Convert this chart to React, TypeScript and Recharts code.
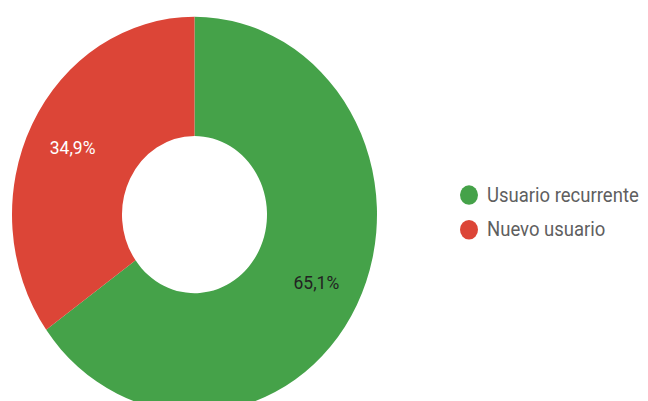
import { PieChart, Pie, Cell, Legend } from "recharts"

const categories = ["Usuario recurrente", "Nuevo usuario"]
const shares = [65.1, 34.9]
const COLORS = ["#45a249", "#dc4537"]
const LABEL_COLORS = ["#222222", "#ffffff"]

const data = categories.map((name, i) => ({ name, value: shares[i] }))

const RADIAN = Math.PI / 180

// the reference image is stretched vertically, so the whole chart gets a scaleY
const W = 648
const H = 370
const STRETCH = 401 / 370

function renderLabel(props: any) {
  const { cx, cy, midAngle, index, value } = props
  const r = 137
  const x = cx + r * Math.cos(-midAngle * RADIAN)
  const y = cy + r * Math.sin(-midAngle * RADIAN)
  return (
    <text
      x={x}
      y={y}
      fill={LABEL_COLORS[index]}
      textAnchor="middle"
      dominantBaseline="central"
      fontSize={17.5}
      fontFamily="Roboto, sans-serif"
    >
      {value.toFixed(1).replace(".", ",")}%
    </text>
  )
}

function LegendList() {
  return (
    <div style={{ fontFamily: "Roboto, sans-serif" }}>
      {categories.map((name, i) => (
        <div
          key={name}
          style={{ display: "flex", alignItems: "center", height: 32 }}
        >
          <span
            style={{
              width: 18,
              height: 18,
              borderRadius: "50%",
              background: COLORS[i],
              marginRight: 9,
              display: "inline-block",
              flexShrink: 0,
            }}
          />
          <span style={{ fontSize: 18.5, color: "#5f5f5f", whiteSpace: "nowrap" }}>
            {name}
          </span>
        </div>
      ))}
    </div>
  )
}

export default function App() {
  return (
    <div
      style={{
        position: "absolute",
        left: 0,
        top: 0,
        width: W,
        height: H,
        transform: `scaleY(${STRETCH})`,
        transformOrigin: "top left",
        background: "#fff",
      }}
    >
      <PieChart width={W} height={H} margin={{ top: 0, right: 0, bottom: 0, left: 0 }}>
        <Pie
          data={data}
          dataKey="value"
          nameKey="name"
          cx={194.5}
          cy={198}
          innerRadius={72.5}
          outerRadius={182.5}
          startAngle={90}
          endAngle={-270}
          stroke="none"
          label={renderLabel}
          labelLine={false}
          isAnimationActive={false}
        >
          {data.map((entry, index) => (
            <Cell key={`cell-${index}`} fill={COLORS[index]} />
          ))}
        </Pie>
        <Legend
          layout="vertical"
          align="right"
          verticalAlign="top"
          wrapperStyle={{ left: 460, top: 164, width: 188 }}
          content={() => <LegendList />}
        />
      </PieChart>
    </div>
  )
}
